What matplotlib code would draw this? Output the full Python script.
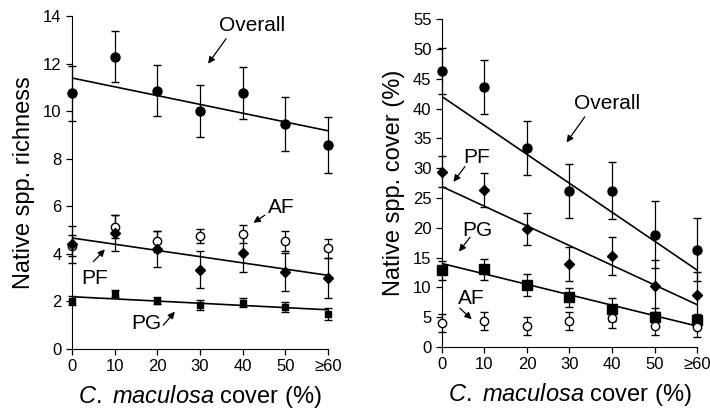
import matplotlib
matplotlib.use("Agg")
import matplotlib.pyplot as plt

plt.rcParams['font.family'] = ['Liberation Sans', 'DejaVu Sans']
plt.rcParams['mathtext.fontset'] = 'custom'
plt.rcParams['mathtext.it'] = 'Liberation Sans:italic'
plt.rcParams['mathtext.rm'] = 'Liberation Sans'

# C. maculosa cover classes
cover = [0, 10, 20, 30, 40, 50, 60]
cover_labels = ['0', '10', '20', '30', '40', '50', '\u226560']

# native species richness (left panel)
rich_overall = [10.75, 12.3, 10.87, 10.0, 10.77, 9.47, 8.58]
rich_overall_err = [1.15, 1.08, 1.08, 1.1, 1.08, 1.13, 1.16]
rich_af = [4.35, 5.15, 4.53, 4.75, 4.83, 4.53, 4.23]
rich_af_err = [0.45, 0.5, 0.45, 0.3, 0.38, 0.42, 0.4]
rich_pf = [4.4, 4.88, 4.21, 3.33, 4.04, 3.23, 2.98]
rich_pf_err = [0.78, 0.75, 0.77, 0.78, 0.78, 0.8, 0.83]
rich_pg = [2.04, 2.33, 2.03, 1.85, 1.95, 1.77, 1.48]
rich_pg_err = [0.18, 0.15, 0.15, 0.22, 0.2, 0.22, 0.25]
rich_fit_overall = [11.4, 9.18]
rich_fit_pf = [4.67, 3.1]
rich_fit_pg = [2.2, 1.65]

# native species cover (right panel)
cov_overall = [46.3, 43.6, 33.4, 26.2, 26.2, 18.8, 16.3]
cov_overall_err = [3.8, 4.6, 4.5, 4.5, 4.8, 5.6, 5.3]
cov_pf = [29.4, 26.3, 19.8, 13.9, 15.3, 10.2, 8.7]
cov_pf_err = [2.6, 2.8, 2.7, 2.8, 3.2, 4.4, 3.9]
cov_pg = [12.9, 13.0, 10.4, 8.3, 6.3, 5.0, 4.5]
cov_pg_err = [1.6, 1.7, 1.8, 1.6, 1.9, 1.5, 1.0]
cov_af = [4.0, 4.4, 3.5, 4.4, 4.8, 3.5, 3.3]
cov_af_err = [1.5, 1.5, 1.5, 1.5, 1.7, 1.5, 1.6]
cov_fit_overall = [42.0, 12.9]
cov_fit_pf = [26.9, 7.1]
cov_fit_pg = [14.0, 3.5]

fit_x = [cover[0], cover[-1]]

fig = plt.figure(figsize=(7.1, 4.15), dpi=100)
axL = fig.add_axes([0.1014, 0.159, 0.3606, 0.802])
axR = fig.add_axes([0.6225, 0.164, 0.3592, 0.790])


def series(ax, y, err, marker, ms, face='black'):
    ax.errorbar(cover, y, yerr=err, fmt=marker, ms=ms, mfc=face, mec='black',
                mew=1, ecolor='black', elinewidth=0.9, capsize=3, capthick=0.9,
                clip_on=False, zorder=3)


def label(ax, text, pos, tail, tip):
    ax.text(pos[0], pos[1], text, fontsize=15, ha='center', va='center')
    ax.annotate('', xy=tip, xytext=tail,
                arrowprops=dict(arrowstyle='-|>', color='black', lw=0.9,
                                mutation_scale=10, shrinkA=0, shrinkB=0))


# left panel
axL.plot(fit_x, rich_fit_overall, color='black', lw=1.2, zorder=2)
axL.plot(fit_x, rich_fit_pf, color='black', lw=1.2, zorder=2)
axL.plot(fit_x, rich_fit_pg, color='black', lw=1.2, zorder=2)
series(axL, rich_overall, rich_overall_err, 'o', 6.5)
series(axL, rich_af, rich_af_err, 'o', 6, face='white')
series(axL, rich_pf, rich_pf_err, 'D', 5.5)
series(axL, rich_pg, rich_pg_err, 's', 4)
axL.set_ylim(0, 14)
axL.set_yticks(range(0, 15, 2))
axL.set_ylabel('Native spp. richness', fontsize=17, labelpad=6)
label(axL, 'Overall', (42.2, 13.6), (36.1, 13.05), (31.9, 12.0))
label(axL, 'AF', (49.0, 5.95), (45.2, 5.63), (42.5, 5.31))
label(axL, 'PF', (5.4, 2.98), (5.0, 3.67), (7.7, 4.19))
label(axL, 'PG', (17.3, 1.09), (21.4, 1.0), (24.1, 1.57))

# right panel
axR.plot(fit_x, cov_fit_overall, color='black', lw=1.2, zorder=2)
axR.plot(fit_x, cov_fit_pf, color='black', lw=1.2, zorder=2)
axR.plot(fit_x, cov_fit_pg, color='black', lw=1.2, zorder=2)
series(axR, cov_overall, cov_overall_err, 'o', 6.5)
series(axR, cov_pf, cov_pf_err, 'D', 5.5)
series(axR, cov_pg, cov_pg_err, 's', 7)
series(axR, cov_af, cov_af_err, 'o', 6, face='white')
axR.set_ylim(0, 55)
axR.set_yticks(range(0, 56, 5))
axR.set_ylabel('Native spp. cover (%)', fontsize=17, labelpad=6)
label(axR, 'Overall', (38.9, 40.9), (33.6, 38.6), (29.3, 34.3))
label(axR, 'PF', (8.2, 31.8), (5.4, 30.25), (2.7, 27.7))
label(axR, 'PG', (8.2, 19.6), (6.6, 18.4), (4.0, 16.0))
label(axR, 'AF', (6.8, 8.2), (4.2, 6.5), (7.0, 4.65))

for ax in (axL, axR):
    ax.set_xlim(0, 60)
    ax.set_xticks(cover)
    ax.set_xticklabels(cover_labels)
    ax.spines['top'].set_visible(False)
    ax.spines['right'].set_visible(False)
    ax.tick_params(labelsize=12, length=4, width=0.9, direction='out')
    ax.set_xlabel('$\\it{C.}$ $\\it{maculosa}$ cover (%)', fontsize=17, labelpad=6)

fig.savefig('out.png', dpi=100)
